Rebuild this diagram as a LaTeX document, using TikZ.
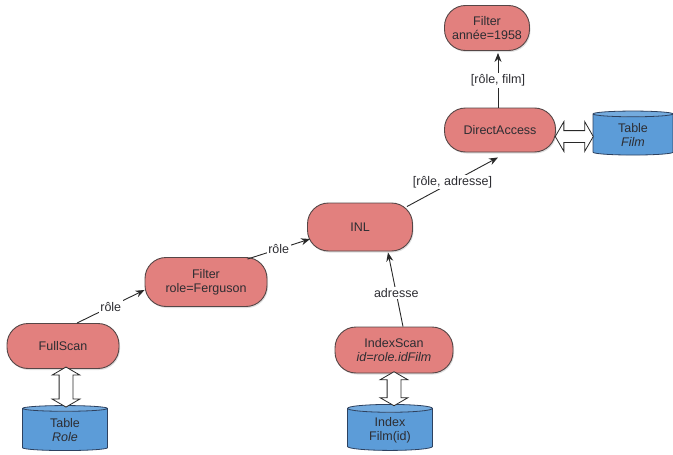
\documentclass[tikz,border=0pt]{standalone}
\usepackage{fontspec}
\setmainfont{Liberation Sans}
\usetikzlibrary{shapes.geometric,shapes.arrows,arrows.meta,calc,shadows}
\definecolor{opfill}{RGB}{226,128,126}
\definecolor{opdraw}{RGB}{85,70,70}
\definecolor{dbfill}{RGB}{92,156,216}
\definecolor{dbdraw}{RGB}{45,65,95}
\definecolor{lnk}{RGB}{40,40,40}
\definecolor{txt}{RGB}{45,45,50}
\tikzset{
  opnode/.style={rectangle, rounded corners=21pt, fill=opfill, draw=opdraw, line width=0.9pt,
    align=center, inner sep=2pt, text=txt, font=\fontsize{12.5}{14}\selectfont,
    drop shadow={opacity=0.25, shadow xshift=1pt, shadow yshift=-1.5pt}},
  dbnode/.style={cylinder, shape border rotate=90, aspect=0.18, draw=dbdraw, line width=0.8pt,
    cylinder uses custom fill, cylinder body fill=dbfill, cylinder end fill=dbfill!85!white,
    align=center, inner sep=1pt, text=txt, font=\fontsize{12.5}{14}\selectfont},
  dbl/.style={double arrow, draw=lnk, fill=white, line width=0.8pt, inner xsep=0pt,
    double arrow tip angle=120, double arrow head indent=0pt},
  link/.style={draw=lnk, line width=0.9pt, -{Stealth[length=9pt,width=7pt]}},
  lab/.style={fill=white, inner sep=1.5pt, text=txt, font=\fontsize{12.5}{14}\selectfont}
}
\begin{document}
\begin{tikzpicture}[x=1pt,y=-1pt]
\useasboundingbox (0,0) rectangle (673,455);
% operators
\node[opnode, minimum width=85pt, minimum height=45pt] (fyear) at (487,28) {Filter\\année=1958};
\node[opnode, minimum width=111pt, minimum height=44pt] (da) at (500,130) {DirectAccess};
\node[opnode, minimum width=105pt, minimum height=48pt] (inl) at (360,227) {INL};
\node[opnode, minimum width=118pt, minimum height=46pt] (iscan) at (394,350) {IndexScan\\\textit{id=role.idFilm}};
\node[opnode, minimum width=122pt, minimum height=49pt] (frole) at (206,282) {Filter\\role=Ferguson};
\node[opnode, minimum width=112pt, minimum height=45pt] (fscan) at (63,346) {FullScan};
% tables
\node[dbnode, minimum width=80pt, minimum height=44pt] (tfilm) at (633,135) {Table\\\textit{Film}};
\node[dbnode, minimum width=85pt, minimum height=46pt] (tidx) at (390,430) {Index\\Film(id)};
\node[dbnode, minimum width=85pt, minimum height=45pt] (trole) at (65,430) {Table\\\textit{Role}};
% double arrows
\node[dbl, minimum height=38pt, inner ysep=5.5pt, double arrow head extend=9pt] (d1) at ($(da.east)!0.5!(tfilm.west)+(0,4)$) {};
\node[dbl, minimum height=40pt, inner ysep=6.5pt, double arrow head extend=7pt, rotate=90] (d2) at ($(fscan.south)!0.5!(trole.north)+(2,0)$) {};
\node[dbl, minimum height=34pt, inner ysep=6.5pt, double arrow head extend=7pt, rotate=90] (d3) at ($(iscan.south)!0.5!(tidx.north)+(2,0)$) {};
% links
\draw[link] ($(fscan.north)+(14,0)$) -- node[lab] (l1) {rôle} ($(frole.west)+(0,8)$);
\draw[link] ($(frole.north east)+(-20,2)$) -- node[lab] (l2) {rôle} ($(inl.west)+(3,12)$);
\draw[link] ($(inl.north east)+(-6,4)$) -- node[lab] (l3) {[rôle, adresse]} ($(da.south)+(-2,5)$);
\draw[link] ($(da.north)+(-2,0)$) -- node[lab] (l4) {[rôle, film]} ($(fyear.south)+(11,2)$);
\draw[link] ($(iscan.north)+(9,0)$) -- node[lab, pos=0.45] (l5) {adresse} ($(inl.south)+(28,1)$);
\end{tikzpicture}
\end{document}
